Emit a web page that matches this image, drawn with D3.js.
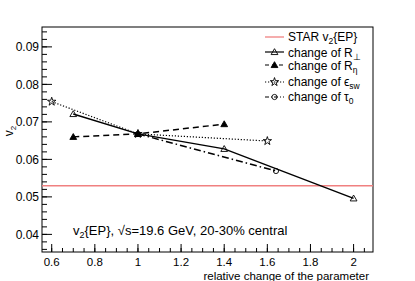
<!DOCTYPE html>
<html>
<head>
<meta charset="utf-8">
<script src="https://cdn.jsdelivr.net/npm/d3@7"></script>
<style>
  body { margin: 0; background: #fff; }
  text { font-family: "Liberation Sans", Arial, sans-serif; fill: #000; }
</style>
</head>
<body>
<svg id="chart" width="415" height="281"></svg>
<script>
// data
const starV2 = 0.053;
const rPerpX = [0.7, 1.0, 1.4, 2.0];
const rPerpY = [0.0721, 0.0668, 0.0628, 0.0496];
const rEtaX = [0.7, 1.0, 1.4];
const rEtaY = [0.0660, 0.0668, 0.0694];
const epsX = [0.6, 1.0, 1.6];
const epsY = [0.0754, 0.0668, 0.0649];
const tauX = [1.0, 1.64];
const tauY = [0.0668, 0.0569];
const xTicks = [0.6, 0.8, 1, 1.2, 1.4, 1.6, 1.8, 2];
const yTicks = [0.04, 0.05, 0.06, 0.07, 0.08, 0.09];

const svg = d3.select('#chart');
const padLeft = 42, padRight = 373, padTop = 27, padBottom = 252;

const x = d3.scaleLinear().domain([0.555, 2.09]).range([padLeft, padRight]);
const y = d3.scaleLinear().domain([0.0353, 0.0953]).range([padBottom, padTop]);

// frame
svg.append('rect')
    .attr('x', padLeft).attr('y', padTop)
    .attr('width', padRight - padLeft).attr('height', padBottom - padTop)
    .attr('fill', 'none').attr('stroke', '#000').attr('stroke-width', 1);

// x ticks (inside, ROOT style)
const xMinor = d3.range(0.6, 2.09, 0.05);
svg.append('g').selectAll('line').data(xMinor).enter().append('line')
    .attr('x1', d => x(d)).attr('x2', d => x(d))
    .attr('y1', padBottom).attr('y2', padBottom - 4)
    .attr('stroke', '#000');
svg.append('g').selectAll('line').data(xTicks).enter().append('line')
    .attr('x1', d => x(d)).attr('x2', d => x(d))
    .attr('y1', padBottom).attr('y2', padBottom - 8)
    .attr('stroke', '#000');
svg.append('g').selectAll('text').data(xTicks).enter().append('text')
    .attr('x', d => x(d)).attr('y', 265.5)
    .attr('text-anchor', 'middle').attr('font-size', 11.5)
    .text(d => d);

// y ticks
const yMinor = d3.range(0.036, 0.0953, 0.002);
svg.append('g').selectAll('line').data(yMinor).enter().append('line')
    .attr('x1', padLeft).attr('x2', padLeft + 5)
    .attr('y1', d => y(d)).attr('y2', d => y(d))
    .attr('stroke', '#000');
svg.append('g').selectAll('line').data(yTicks).enter().append('line')
    .attr('x1', padLeft).attr('x2', padLeft + 10)
    .attr('y1', d => y(d)).attr('y2', d => y(d))
    .attr('stroke', '#000');
svg.append('g').selectAll('text').data(yTicks).enter().append('text')
    .attr('x', 39).attr('y', d => y(d) + 4.5)
    .attr('text-anchor', 'end').attr('font-size', 12)
    .text(d => d.toFixed(2));

// axis titles
svg.append('text')
    .attr('x', 369).attr('y', 279.5)
    .attr('text-anchor', 'end').attr('font-size', 11.5)
    .text('relative change of the parameter');
const yt = svg.append('text')
    .attr('transform', 'translate(13,131) rotate(-90)')
    .attr('text-anchor', 'middle').attr('font-size', 12);
yt.append('tspan').text('v');
yt.append('tspan').attr('font-size', 8).attr('dy', 3).text('2');

// STAR reference line
svg.append('line')
    .attr('x1', padLeft).attr('x2', padRight)
    .attr('y1', y(starV2)).attr('y2', y(starV2))
    .attr('stroke', '#f08080').attr('stroke-width', 1.5);

// series
const series = [
    { xs: rPerpX, ys: rPerpY, dash: null, marker: 'triOpen' },
    { xs: rEtaX, ys: rEtaY, dash: '6,4', marker: 'triFilled' },
    { xs: epsX, ys: epsY, dash: '1.2,1.8', marker: 'star' },
    { xs: tauX, ys: tauY, dash: '7,3,1.5,3', marker: 'circle' }
];

const line = d3.line().x(d => x(d[0])).y(d => y(d[1]));

function drawMarker(g, kind, cx, cy) {
    if (kind === 'triOpen' || kind === 'triFilled') {
        g.append('path')
            .attr('d', d3.symbol().type(d3.symbolTriangle).size(20)())
            .attr('transform', `translate(${cx},${cy + 0.6})`)
            .attr('fill', kind === 'triFilled' ? '#000' : 'none')
            .attr('stroke', '#000').attr('stroke-width', 0.9);
    } else if (kind === 'star') {
        g.append('path')
            .attr('d', d3.symbol().type(d3.symbolStar).size(22)())
            .attr('transform', `translate(${cx},${cy})`)
            .attr('fill', 'none').attr('stroke', '#000').attr('stroke-width', 0.9);
    } else {
        g.append('circle')
            .attr('cx', cx).attr('cy', cy).attr('r', 2.6)
            .attr('fill', 'none').attr('stroke', '#000').attr('stroke-width', 0.9);
    }
}

series.forEach(s => {
    const pts = s.xs.map((v, i) => [v, s.ys[i]]);
    svg.append('path')
        .attr('d', line(pts))
        .attr('fill', 'none').attr('stroke', '#000')
        .attr('stroke-width', s.dash === '1.2,1.8' ? 1.2 : 1.5)
        .attr('stroke-dasharray', s.dash);
    const g = svg.append('g');
    pts.forEach(p => drawMarker(g, s.marker, x(p[0]), y(p[1])));
});

// legend
const legendRows = [
    { ly: 37, ty: 40.5, dash: null, color: '#f08080', marker: null, label: ['STAR v', '2', '{EP}'] },
    { ly: 52, ty: 56.5, dash: null, color: '#000', marker: 'triOpen', label: ['change of R', '\u22A5', ''] },
    { ly: 65, ty: 70, dash: '4,3', color: '#000', marker: 'triFilled', label: ['change of R', '\u03B7', ''] },
    { ly: 82, ty: 86, dash: '1.2,1.8', color: '#000', marker: 'star', label: ['change of \u03F5', 'sw', ''] },
    { ly: 97, ty: 101, dash: '4,2,1,2', color: '#000', marker: 'circle', label: ['change of \u03C4', '0', ''] }
];

legendRows.forEach(r => {
    svg.append('line')
        .attr('x1', 265).attr('x2', 284)
        .attr('y1', r.ly).attr('y2', r.ly)
        .attr('stroke', r.color).attr('stroke-width', r.marker ? 1.2 : 1.3)
        .attr('stroke-dasharray', r.dash);
    if (r.marker) drawMarker(svg.append('g'), r.marker, 274.5, r.ly);
    const t = svg.append('text').attr('x', 288).attr('y', r.ty).attr('font-size', 12);
    t.append('tspan').text(r.label[0]);
    t.append('tspan').attr('font-size', 8.5).attr('dy', 3).text(r.label[1]);
    if (r.label[2]) t.append('tspan').attr('dy', -3).text(r.label[2]);
});

// annotation
const ann = svg.append('text').attr('x', 73).attr('y', 235).attr('font-size', 13);
ann.append('tspan').text('v');
ann.append('tspan').attr('font-size', 9).attr('dy', 3).text('2');
ann.append('tspan').attr('dy', -3).text('{EP}, \u221As=19.6 GeV, 20-30% central');
</script>
</body>
</html>
